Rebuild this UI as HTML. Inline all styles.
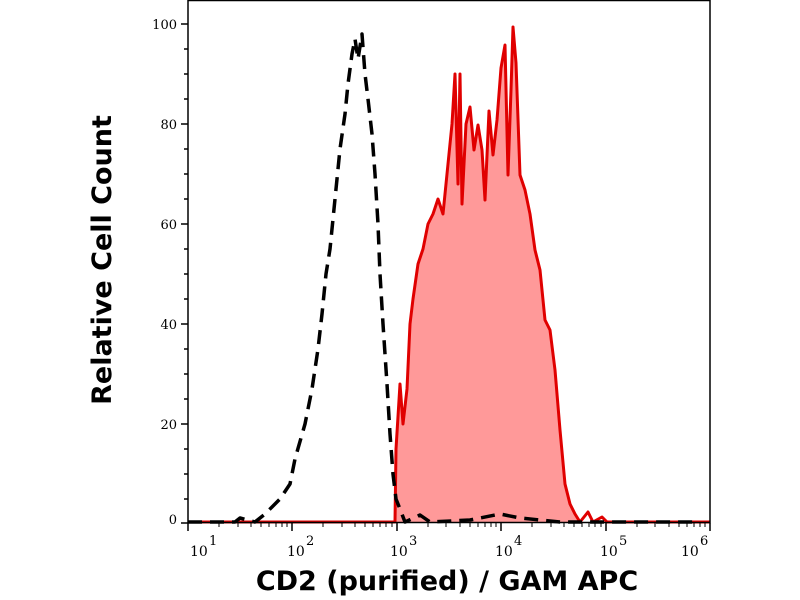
<!DOCTYPE html>
<html><head><style>
body{margin:0;background:#fff;}
svg{display:block;}
</style></head><body>
<svg width="800" height="600" viewBox="0 0 800 600" xmlns="http://www.w3.org/2000/svg">
<rect width="800" height="600" fill="#fff"/>
<polygon fill="#ff9999" stroke="none" points="395,523 396,449 400,384 403,424 407,389 410,324 413,299 418,264 423,249 428,224 433,214 438,199 443,214 447,174 452,124 455,74 458,184 460,74 462,204 466,124 470,107 474,150 478,125 482,150 485,200 489,111 493,155 497,120 501,68 505,45 508,175 511,90 513,27 516,63 520,175 525,190 530,214 535,250 540,270 545,320 550,330 555,370 560,430 565,484 570,504 575,514 580,523"/>
<polyline fill="none" stroke="#e00000" stroke-width="3" stroke-linejoin="round" points="188,522 395,522 396,449 400,384 403,424 407,389 410,324 413,299 418,264 423,249 428,224 433,214 438,199 443,214 447,174 452,124 455,74 458,184 460,74 462,204 466,124 470,107 474,150 478,125 482,150 485,200 489,111 493,155 497,120 501,68 505,45 508,175 511,90 513,27 516,63 520,175 525,190 530,214 535,250 540,270 545,320 550,330 555,370 560,430 565,484 570,504 575,514 580,522 588,512 593,522 602,517 607,522 710,522"/>
<polyline fill="none" stroke="#000" stroke-width="3.5" stroke-dasharray="14,8" stroke-linejoin="round" points="188,522 235,522 240,518 255,522 265,514 280,499 290,484 295,459 305,424 312,389 318,349 322,314 326,274 330,249 335,199 340,149 345,114 348,84 352,54 355,39 358,59 362,34 365,74 368,99 372,134 375,174 378,224 380,274 383,324 387,384 390,434 393,474 396,499 400,509 405,522 420,515 430,522 470,520 500,514 520,518 560,522 700,522"/>
<rect x="188" y="0.5" width="522" height="522" fill="none" stroke="#000" stroke-width="1.5"/>
<g stroke="#000" stroke-width="1.5">
<line x1="181" y1="24" x2="188" y2="24"/><line x1="181" y1="124" x2="188" y2="124"/><line x1="181" y1="224" x2="188" y2="224"/><line x1="181" y1="324" x2="188" y2="324"/><line x1="181" y1="424" x2="188" y2="424"/><line x1="181" y1="523" x2="188" y2="523"/>
<line x1="184" y1="49" x2="188" y2="49"/><line x1="184" y1="74" x2="188" y2="74"/><line x1="184" y1="99" x2="188" y2="99"/>
<line x1="184" y1="149" x2="188" y2="149"/><line x1="184" y1="174" x2="188" y2="174"/><line x1="184" y1="199" x2="188" y2="199"/>
<line x1="184" y1="249" x2="188" y2="249"/><line x1="184" y1="274" x2="188" y2="274"/><line x1="184" y1="299" x2="188" y2="299"/>
<line x1="184" y1="349" x2="188" y2="349"/><line x1="184" y1="374" x2="188" y2="374"/><line x1="184" y1="399" x2="188" y2="399"/>
<line x1="184" y1="449" x2="188" y2="449"/><line x1="184" y1="474" x2="188" y2="474"/><line x1="184" y1="499" x2="188" y2="499"/>
</g>
<g font-family="DejaVu Serif, serif" font-size="13" text-anchor="end" fill="#000">
<text x="177" y="29">100</text><text x="177" y="129">80</text><text x="177" y="229">60</text><text x="177" y="329">40</text><text x="177" y="429">20</text><text x="177" y="524">0</text>
</g>
<g stroke="#000" stroke-width="1.5">
<line x1="188" y1="523" x2="188" y2="531"/><line x1="292" y1="523" x2="292" y2="531"/><line x1="397" y1="523" x2="397" y2="531"/><line x1="501" y1="523" x2="501" y2="531"/><line x1="606" y1="523" x2="606" y2="531"/><line x1="710" y1="523" x2="710" y2="531"/>
</g>
<g stroke="#000" stroke-width="1">
<line x1="219" y1="523" x2="219" y2="527"/><line x1="238" y1="523" x2="238" y2="527"/><line x1="251" y1="523" x2="251" y2="527"/><line x1="261" y1="523" x2="261" y2="527"/><line x1="269" y1="523" x2="269" y2="527"/><line x1="276" y1="523" x2="276" y2="527"/><line x1="282" y1="523" x2="282" y2="527"/><line x1="287" y1="523" x2="287" y2="527"/>
<line x1="323" y1="523" x2="323" y2="527"/><line x1="342" y1="523" x2="342" y2="527"/><line x1="355" y1="523" x2="355" y2="527"/><line x1="365" y1="523" x2="365" y2="527"/><line x1="373" y1="523" x2="373" y2="527"/><line x1="380" y1="523" x2="380" y2="527"/><line x1="386" y1="523" x2="386" y2="527"/><line x1="392" y1="523" x2="392" y2="527"/>
<line x1="428" y1="523" x2="428" y2="527"/><line x1="446" y1="523" x2="446" y2="527"/><line x1="460" y1="523" x2="460" y2="527"/><line x1="470" y1="523" x2="470" y2="527"/><line x1="478" y1="523" x2="478" y2="527"/><line x1="485" y1="523" x2="485" y2="527"/><line x1="491" y1="523" x2="491" y2="527"/><line x1="496" y1="523" x2="496" y2="527"/>
<line x1="532" y1="523" x2="532" y2="527"/><line x1="551" y1="523" x2="551" y2="527"/><line x1="564" y1="523" x2="564" y2="527"/><line x1="574" y1="523" x2="574" y2="527"/><line x1="582" y1="523" x2="582" y2="527"/><line x1="589" y1="523" x2="589" y2="527"/><line x1="595" y1="523" x2="595" y2="527"/><line x1="601" y1="523" x2="601" y2="527"/>
<line x1="637" y1="523" x2="637" y2="527"/><line x1="655" y1="523" x2="655" y2="527"/><line x1="669" y1="523" x2="669" y2="527"/><line x1="679" y1="523" x2="679" y2="527"/><line x1="687" y1="523" x2="687" y2="527"/><line x1="694" y1="523" x2="694" y2="527"/><line x1="700" y1="523" x2="700" y2="527"/><line x1="705" y1="523" x2="705" y2="527"/>
</g>
<g font-family="DejaVu Serif, serif" font-size="14" fill="#000">
<text x="190" y="556">10</text><text x="209" y="545" font-size="13">1</text>
<text x="287" y="556">10</text><text x="306" y="545" font-size="13">2</text>
<text x="390" y="556">10</text><text x="409" y="545" font-size="13">3</text>
<text x="495" y="556">10</text><text x="514" y="545" font-size="13">4</text>
<text x="600" y="556">10</text><text x="619" y="545" font-size="13">5</text>
<text x="681" y="556">10</text><text x="700" y="545" font-size="13">6</text>
</g>
<text x="447" y="590" font-family="DejaVu Sans, sans-serif" font-weight="bold" font-size="27" text-anchor="middle">CD2 (purified) / GAM APC</text>
<text transform="translate(111,260) rotate(-90)" font-family="DejaVu Sans, sans-serif" font-weight="bold" font-size="27" text-anchor="middle">Relative Cell Count</text>
</svg>
</body></html>
